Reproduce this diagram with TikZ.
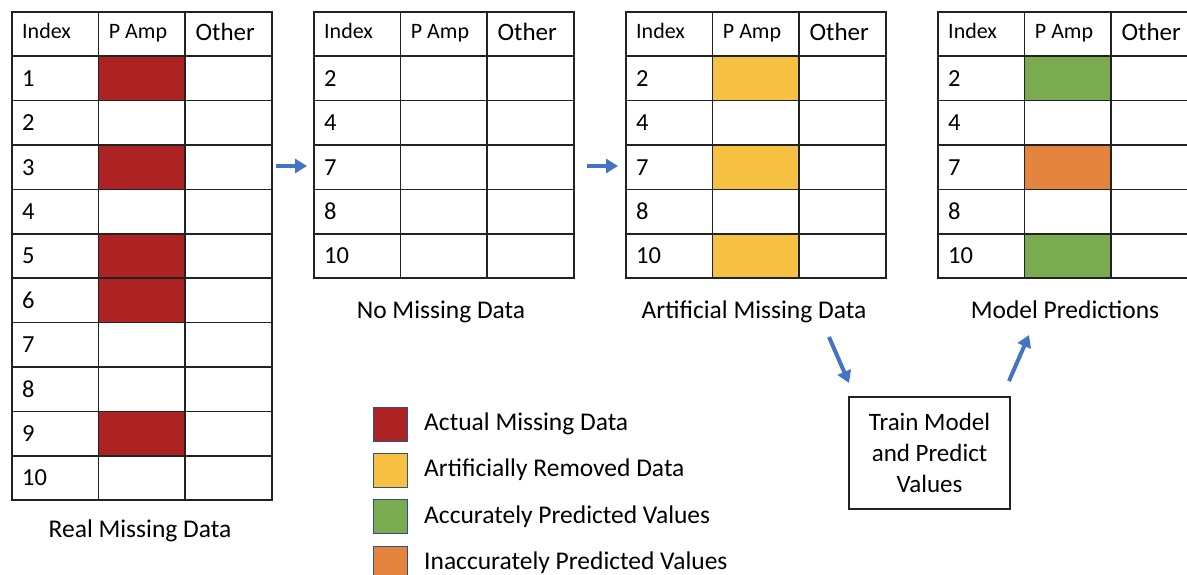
\documentclass[tikz,border=0pt]{standalone}
\usepackage{fontspec}
\setmainfont{Carlito}
\usetikzlibrary{arrows.meta}
\definecolor{redc}{HTML}{AD2324}
\definecolor{yelc}{HTML}{F6C142}
\definecolor{grnc}{HTML}{7BAB50}
\definecolor{orac}{HTML}{E4843F}
\definecolor{bluec}{HTML}{4472C4}
\definecolor{linec}{HTML}{222222}
\tikzset{
  cell/.style={draw=linec, line width=1.6pt, anchor=north west, inner sep=0pt,
    minimum width=86.7pt, minimum height=44.4pt},
  numtxt/.style={anchor=west, inner sep=0pt, font=\fontsize{24.5}{28}\selectfont},
  hdtxt/.style={anchor=base west, inner sep=0pt, font=\fontsize{22}{26}\selectfont},
  othtxt/.style={anchor=base west, inner sep=0pt, font=\fontsize{25}{29}\selectfont},
  captxt/.style={anchor=base, inner sep=0pt, font=\fontsize{25.5}{29}\selectfont},
  legsq/.style={draw=bluec!70!black, line width=1pt, minimum width=34pt, minimum height=34pt, inner sep=0pt},
  legtxt/.style={anchor=west, inner sep=0pt, font=\fontsize{25.5}{29}\selectfont},
  flow/.style={draw=bluec, line width=4pt, -{Triangle[length=12pt,width=14pt]}},
  trainbox/.style={draw=linec, line width=1.5pt, minimum width=161pt, minimum height=112pt,
    align=center, font=\fontsize{25}{31}\selectfont}
}
\newcommand{\mytable}[3]{%
  \node[cell] (#1-0-1) at (#2,11) {};
  \node[cell] (#1-0-2) at (#2+86.7,11) {};
  \node[cell] (#1-0-3) at (#2+173.4,11) {};
  \node[hdtxt] (#1-h1) at (#2+11,39) {Index};
  \node[hdtxt] (#1-h2) at (#2+97.7,38.5) {P Amp};
  \node[othtxt] (#1-h3) at (#2+184.4,41) {Other};
  \foreach \lab/\col [count=\r] in {#3} {
    \pgfmathsetmacro\yy{11+44.4*\r}
    \node[cell] (#1-\r-1) at (#2,\yy) {};
    \node[cell, fill=\col] (#1-\r-2) at (#2+86.7,\yy) {};
    \node[cell] (#1-\r-3) at (#2+173.4,\yy) {};
    \node[numtxt] (#1-\r-t) at ([xshift=11pt]#1-\r-1.west) {\lab};
  }%
}
\begin{document}
\begin{tikzpicture}[x=1pt,y=-1pt]
\useasboundingbox (0,0) rectangle (1187,575);
\clip (0,0) rectangle (1187,575);
\fill[white] (0,0) rectangle (1187,575);

\mytable{ta}{11}{1/redc,2/white,3/redc,4/white,5/redc,6/redc,7/white,8/white,9/redc,10/white}
\mytable{tb}{313}{2/white,4/white,7/white,8/white,10/white}
\mytable{tc}{625}{2/yelc,4/white,7/yelc,8/white,10/yelc}
\mytable{td}{937}{2/grnc,4/white,7/orac,8/white,10/grnc}

\node[captxt] (capa) at (140,537) {Real Missing Data};
\node[captxt] (capb) at (441,318) {No Missing Data};
\node[captxt] (capc) at (754,318) {Artificial Missing Data};
\node[captxt] (capd) at (1065,318) {Model Predictions};

\coordinate (a1s) at (276,166);
\coordinate (a1e) at (307,166);
\coordinate (a2s) at (587,166);
\coordinate (a2e) at (618,166);
\draw[flow] (a1s) -- (a1e);
\draw[flow] (a2s) -- (a2e);

\node[trainbox] (train) at (929.5,453) {Train Model\\and Predict\\Values};
\coordinate (d1s) at (829,337);
\coordinate (d1e) at (849,383);
\coordinate (d2s) at (1009,381);
\coordinate (d2e) at (1029,335);
\draw[flow] (d1s) -- (d1e);
\draw[flow] (d2s) -- (d2e);

\node[legsq, fill=redc] (l1) at (390,424) {};
\node[legsq, fill=yelc] (l2) at (390,470) {};
\node[legsq, fill=grnc] (l3) at (390,516.5) {};
\node[legsq, fill=orac] (l4) at (390,563) {};
\node[legtxt] (lt1) at (424,424) {Actual Missing Data};
\node[legtxt] (lt2) at (424,470) {Artificially Removed Data};
\node[legtxt] (lt3) at (424,516.5) {Accurately Predicted Values};
\node[legtxt] (lt4) at (424,563) {Inaccurately Predicted Values};
\end{tikzpicture}
\end{document}
